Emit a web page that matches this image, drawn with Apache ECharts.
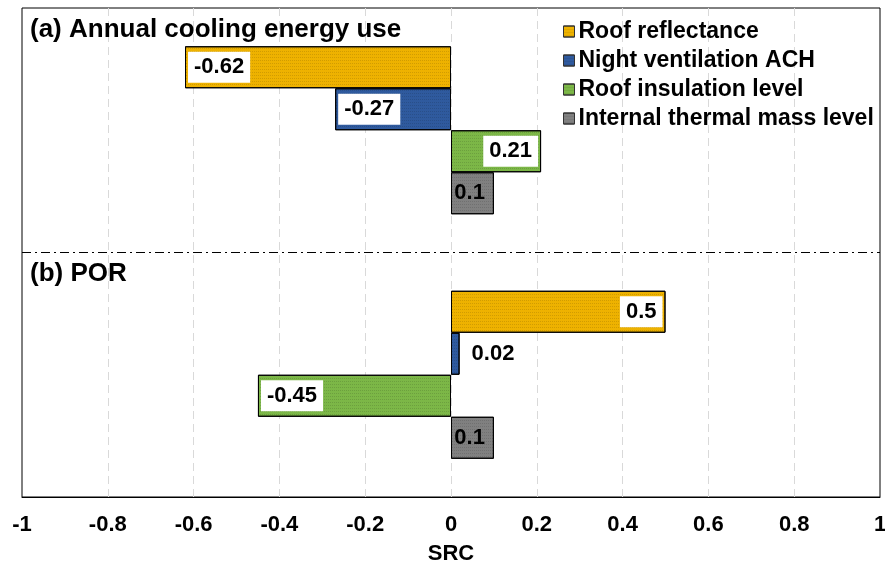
<!DOCTYPE html>
<html>
<head>
<meta charset="utf-8">
<script src="https://cdn.jsdelivr.net/npm/echarts@6/dist/echarts.min.js"></script>
<style>
  html, body { margin: 0; padding: 0; background: #fff; }
  #chart { width: 885px; height: 567px; }
</style>
</head>
<body>
<div id="chart"></div>
<script>
// Panels (categories) and standardized regression coefficients per parameter
const panels = ['(a) Annual cooling energy use', '(b) POR'];
const seriesNames = ['Roof reflectance', 'Night ventilation ACH', 'Roof insulation level', 'Internal thermal mass level'];
const roofReflectance = [-0.62, 0.5];
const nightVentilation = [-0.27, 0.02];
const roofInsulation = [0.21, -0.45];
const thermalMass = [0.1, 0.1];
const xTicks = [-1, -0.8, -0.6, -0.4, -0.2, 0, 0.2, 0.4, 0.6, 0.8, 1];

const colors = ['#EEB200', '#2F5A9E', '#7CB747', '#808080'];
const values = [roofReflectance, nightVentilation, roofInsulation, thermalMass];
const FONT = '"Liberation Sans", Arial, sans-serif';

function labelFor(v, withBox) {
  const base = {
    show: true,
    fontFamily: FONT,
    fontWeight: 'bold',
    fontSize: 22,
    color: '#000',
    formatter: p => String(p.value)
  };
  if (Math.abs(v) < 0.05) {
    // too thin to hold its label: place it beside the bar
    return Object.assign(base, { position: 'right', distance: 12 });
  }
  Object.assign(base, {
    position: v < 0 ? 'insideLeft' : 'insideRight',
    distance: 3
  });
  if (withBox) {
    Object.assign(base, { backgroundColor: '#fff', padding: [5, 6, 4, 6] });
  } else {
    Object.assign(base, { padding: [5, 6, 4, 6] });
  }
  return base;
}

const series = seriesNames.map((name, i) => ({
  name: name,
  type: 'bar',
  barWidth: 42,
  barGap: '0%',
  itemStyle: {
    color: colors[i],
    borderColor: '#000',
    borderWidth: 1,
    decal: {
      symbol: 'rect',
      symbolSize: 1,
      dashArrayX: [1, 1],
      dashArrayY: [1, 2],
      color: 'rgba(0,0,0,0.12)'
    }
  },
  data: values[i].map(v => ({ value: v, label: labelFor(v, i < 3) }))
}));

const chart = echarts.init(document.getElementById('chart'));
chart.setOption({
  animation: false,
  grid: {
    left: 22, right: 5, top: 8, bottom: 70,
    containLabel: false, outerBoundsMode: 'none',
    show: true, borderColor: '#000', borderWidth: 1, backgroundColor: 'transparent'
  },
  title: [
    { text: panels[0], left: 30, top: 17, padding: 0, textStyle: { fontFamily: FONT, fontWeight: 'bold', fontSize: 26, color: '#000' } },
    { text: panels[1], left: 30, top: 261, padding: 0, textStyle: { fontFamily: FONT, fontWeight: 'bold', fontSize: 26, color: '#000' } }
  ],
  legend: {
    orient: 'vertical',
    left: 563,
    top: 20,
    padding: 0,
    itemWidth: 11,
    itemHeight: 11,
    itemGap: 6,
    icon: 'rect',
    itemStyle: { borderColor: '#333', borderWidth: 1 },
    textStyle: { fontFamily: FONT, fontWeight: 'bold', fontSize: 23, color: '#000', padding: [0, 0, 0, -1] },
    data: seriesNames
  },
  xAxis: {
    type: 'value',
    min: xTicks[0],
    max: xTicks[xTicks.length - 1],
    interval: 0.2,
    name: 'SRC',
    nameLocation: 'middle',
    nameGap: 46,
    nameTextStyle: { fontFamily: FONT, fontWeight: 'bold', fontSize: 22, color: '#000' },
    axisLine: { show: true, lineStyle: { color: '#000' } },
    axisTick: { show: false },
    axisLabel: {
      fontFamily: FONT, fontWeight: 'bold', fontSize: 22, color: '#000', margin: 17,
      formatter: v => {
        const r = Math.round(v * 10) / 10;
        return xTicks.includes(r) ? String(r) : '';
      }
    },
    splitLine: { show: true, showMinLine: false, showMaxLine: false, lineStyle: { color: '#d9d9d9', type: [8, 5], width: 1 } }
  },
  yAxis: {
    type: 'category',
    inverse: true,
    data: panels,
    axisLine: { show: false },
    axisTick: { show: false },
    axisLabel: { show: false },
    splitLine: { show: true, showMinLine: false, showMaxLine: false, lineStyle: { color: '#000', type: [9, 4, 2, 4], width: 1 } }
  },
  series: series
});
</script>
</body>
</html>
